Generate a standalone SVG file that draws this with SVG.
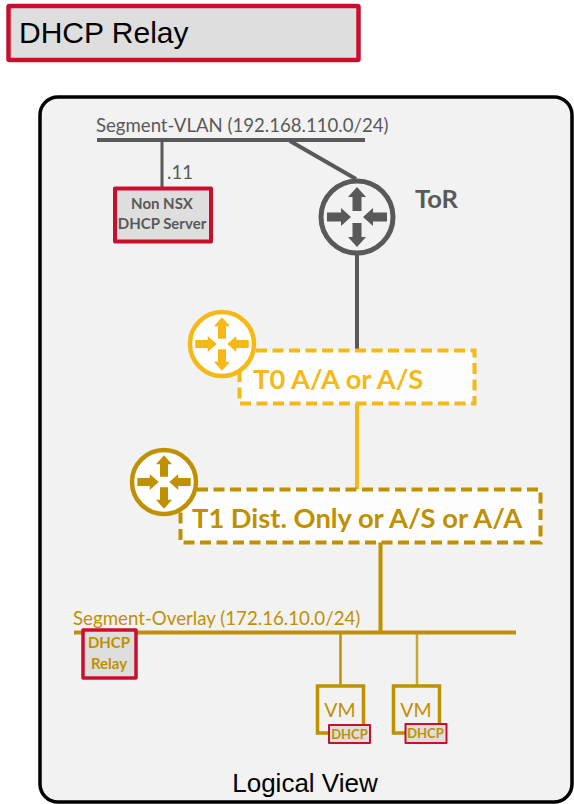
<svg xmlns="http://www.w3.org/2000/svg" width="574" height="804" viewBox="0 0 574 804">
<style>
.lato{font-family:"Lato","Carlito","Open Sans",sans-serif}
.arial{font-family:"Liberation Sans",Arial,sans-serif}
.grey{fill:#595959}.gold{fill:#bf9000}.yellow{fill:#f4b914}
.red{fill:#dedede;stroke:#c8102e;stroke-linejoin:round}
.b{font-weight:700}
.m{text-anchor:middle}
.dash{fill:#fff;fill-opacity:.8;stroke-width:4;stroke-dasharray:11 5.500}
.rt{fill:#fff;stroke-width:4.5}
</style>
<defs>
<g id="arrows">
<path d="M-4.500-6V-20H-9L0-30 9-20H4.500V-6Z"/>
<path d="M-4.500 6V20H-9L0 30 9 20H4.500V6Z"/>
<path d="M-30-4.500H-16V-9L-6 0-16 9V4.500H-30Z"/>
<path d="M30-4.500H16V-9L6 0 16 9V4.500H30Z"/>
</g>
</defs>
<g id="title"><rect class="red" x="8.500" y="6" width="350" height="54" rx="1" stroke-width="4.500"/>
<text class="arial" x="19" y="43" font-size="30" fill="#000">DHCP Relay</text></g>
<g id="logical-view"><rect x="40" y="97" width="532" height="705" rx="18" fill="#f2f2f2" stroke="#000" stroke-width="3.500"/>
<text class="arial m" x="305" y="792" font-size="26" fill="#000">Logical View</text></g>
<g id="connectors" fill="none">
<path d="M97 140H365M290 141L356 179M357 254V350" stroke="#595959" stroke-width="4"/>
<path d="M162 141V187" stroke="#595959" stroke-width="3"/>
<path d="M357 404V489" stroke="#f4b914" stroke-width="4"/>
<path d="M380.500 542V632M74 632.500H516" stroke="#bf9000" stroke-width="4"/>
<path d="M340.500 634V685" stroke="#bf9000" stroke-width="2.500"/>
<path d="M417 634V685" stroke="#cda433" stroke-width="2.500"/>
</g>
<g id="segment-vlan"><text class="lato grey" x="96" y="132" font-size="18.600">Segment-VLAN (192.168.110.0/24)</text>
<text class="lato grey" x="167" y="179" font-size="18.600">.11</text></g>
<g id="dhcp-server"><rect class="red" x="115" y="188.500" width="96" height="53" stroke-width="4"/>
<text class="lato grey b m" x="162" y="209" font-size="15">Non NSX</text>
<text class="lato grey b m" x="162" y="229" font-size="15">DHCP Server</text></g>
<g id="tor"><circle cx="357" cy="217" r="36" fill="none" stroke="#595959" stroke-width="5"/>
<use href="#arrows" transform="translate(357 217)" fill="#595959"/>
<text class="lato grey b" x="415" y="208" font-size="25.500">ToR</text></g>
<g id="t0"><rect class="dash" x="239.500" y="350.500" width="235" height="53" stroke="#f4b914"/>
<circle class="rt" cx="222" cy="344" r="32" stroke="#f4b914"/>
<use href="#arrows" transform="translate(222 344) scale(.89)" fill="#f4b914"/>
<text class="lato yellow b" x="253" y="389" font-size="27.300">T0 A/A or A/S</text></g>
<g id="t1"><rect class="dash" x="180.500" y="489.500" width="360" height="53" stroke="#bf9000"/>
<circle class="rt" cx="164" cy="482" r="32" stroke="#bf9000"/>
<use href="#arrows" transform="translate(164 482) scale(.89)" fill="#bf9000"/>
<text class="lato gold b" x="192" y="528" font-size="27.300">T1 Dist. Only or A/S or A/A</text></g>
<g id="segment-overlay"><text class="lato gold" x="73" y="625" font-size="18.700">Segment-Overlay (172.16.10.0/24)</text></g>
<g id="dhcp-relay"><rect class="red" x="83" y="630" width="53" height="48" stroke-width="3.500"/>
<text class="lato gold b m" x="109" y="648" font-size="15">DHCP</text>
<text class="lato gold b m" x="109" y="669" font-size="15">Relay</text></g>
<g id="vm1"><rect x="317.500" y="686" width="46" height="47" fill="none" stroke="#bf9000" stroke-width="3.500"/>
<text class="lato gold m" x="340" y="717" font-size="19.500">VM</text>
<rect class="red" x="329" y="725" width="41" height="18" stroke-width="2"/>
<text class="lato gold b m" x="349.500" y="739" font-size="13">DHCP</text></g>
<g id="vm2"><rect x="393.500" y="686" width="46" height="47" fill="none" stroke="#bf9000" stroke-width="3.500"/>
<text class="lato gold m" x="416" y="717" font-size="19.500">VM</text>
<rect class="red" x="405.500" y="724" width="41" height="19" stroke-width="2"/>
<text class="lato gold b m" x="425.500" y="738" font-size="13">DHCP</text></g>
</svg>
